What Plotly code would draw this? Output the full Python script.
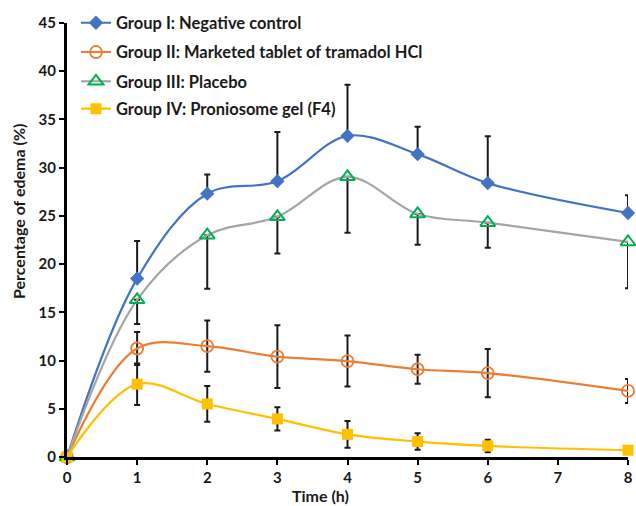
import plotly.graph_objects as go

time_h = [0, 1, 2, 3, 4, 5, 6, 8]

g1_name = "Group I: Negative control"
g1_mean = [0, 18.5, 27.3, 28.6, 33.3, 31.4, 28.4, 25.3]
g1_sd = [0, 3.9, 2.0, 5.1, 5.3, 2.85, 4.85, 1.85]

g2_name = "Group II: Marketed tablet of tramadol HCl"
g2_mean = [0, 11.25, 11.5, 10.4, 9.95, 9.1, 8.7, 6.85]
g2_sd = [0, 1.7, 2.65, 3.25, 2.65, 1.5, 2.5, 1.25]

g3_name = "Group III: Placebo"
g3_mean = [0, 16.3, 23.0, 24.9, 29.05, 25.2, 24.3, 22.3]
g3_sd = [0, 2.5, 5.55, 3.8, 5.8, 3.2, 2.6, 4.8]

g4_name = "Group IV: Proniosome gel (F4)"
g4_mean = [0, 7.55, 5.5, 3.95, 2.35, 1.6, 1.15, 0.7]
g4_sd = [0, 2.15, 1.85, 1.2, 1.38, 0.86, 0.65, 0.2]

y_ticks = [0, 5, 10, 15, 20, 25, 30, 35, 40, 45]
x_ticks = [0, 1, 2, 3, 4, 5, 6, 7, 8]

x_title = "Time (h)"
y_title = "Percentage of edema (%)"

FONT = "Lato"
INK = "#1a1a1a"
zeros = [0] * len(time_h)

fig = go.Figure()

def add(name, y, sd, mode_err, line_color, marker, legend):
    if mode_err == "up":
        err = dict(type="data", symmetric=False, array=sd, arrayminus=zeros)
    elif mode_err == "down":
        err = dict(type="data", symmetric=False, array=zeros, arrayminus=sd)
    else:
        err = dict(type="data", array=sd)
    err.update(color=INK, thickness=2, width=3)
    fig.add_trace(go.Scatter(
        x=time_h, y=y, name="<b>" + name + "</b>", mode="lines+markers",
        line=dict(color=line_color, width=2.2, shape="spline", smoothing=1),
        marker=marker, error_y=err, cliponaxis=False, legend=legend,
    ))

add(g1_name, g1_mean, g1_sd, "up", "#4472C4",
    dict(symbol="diamond", size=11, color="#4472C4"), "legend")
add(g2_name, g2_mean, g2_sd, "both", "#ED7D31",
    dict(symbol="circle-open", size=12, color="#ED7D31", line=dict(width=1.8)), "legend2")
add(g3_name, g3_mean, g3_sd, "down", "#A5A5A5",
    dict(symbol="triangle-up-open", size=13, color="#00B050", line=dict(width=2)), "legend3")
add(g4_name, g4_mean, g4_sd, "both", "#FFC000",
    dict(symbol="square", size=11, color="#FFC000"), "legend4")

leg_font = dict(family=FONT, size=16.5, color=INK)
def leg(y):
    return dict(x=0.016, y=y, xanchor="left", yanchor="middle",
                bgcolor="rgba(0,0,0,0)", borderwidth=0, font=leg_font)

fig.update_layout(
    width=636, height=506,
    margin=dict(l=67, r=8, t=23, b=49, autoexpand=False),
    paper_bgcolor="white", plot_bgcolor="white",
    font=dict(family=FONT, size=14, color=INK),
    showlegend=True,
    legend=leg(1.0), legend2=leg(0.9325), legend3=leg(0.865), legend4=leg(0.802),
    xaxis=dict(
        range=[0, 8], tickvals=x_ticks, ticktext=[str(t) for t in x_ticks],
        showgrid=False, zeroline=False, showline=True, linecolor="black", linewidth=3,
        ticks="outside", ticklen=5, tickwidth=2, tickcolor="black",
        tickfont=dict(family=FONT, size=15, color=INK, weight="bold"),
        automargin=False,
    ),
    yaxis=dict(
        range=[0, 45], tickvals=y_ticks, ticktext=[str(t) for t in y_ticks],
        showgrid=False, zeroline=False, showline=True, linecolor="black", linewidth=3,
        ticks="outside", ticklen=5, tickwidth=2, tickcolor="black",
        tickfont=dict(family=FONT, size=15, color=INK, weight="bold"),
        automargin=False,
    ),
    annotations=[
        dict(text="<b>" + x_title + "</b>", xref="paper", yref="paper", x=0.451, y=0,
             xanchor="center", yanchor="middle", yshift=-38, showarrow=False,
             font=dict(family=FONT, size=16, color=INK)),
        dict(text="<b>" + y_title + "</b>", xref="paper", yref="paper", x=0, y=0.5645,
             xanchor="center", yanchor="middle", xshift=-49, textangle=-90, showarrow=False,
             font=dict(family=FONT, size=16, color=INK)),
    ],
)

fig.write_html("out.html", config={"displayModeBar": False},
               post_script="document.body.style.margin='0';")
